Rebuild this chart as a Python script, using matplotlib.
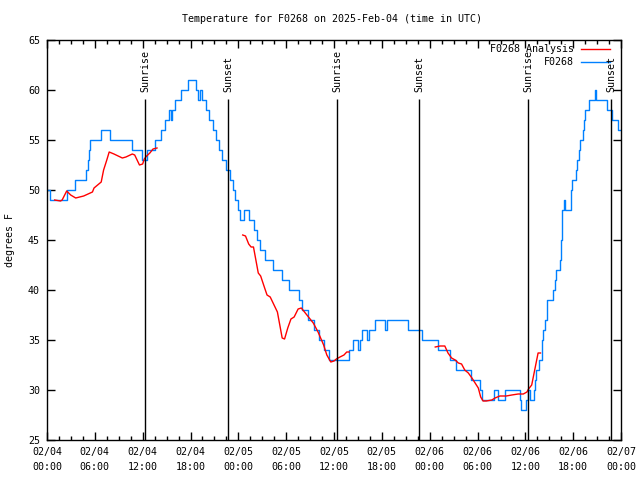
import numpy as np
import pandas as pd
import matplotlib
matplotlib.use('Agg')
import matplotlib.pyplot as plt
import matplotlib.dates as mdates
from matplotlib.ticker import AutoMinorLocator, MultipleLocator

plt.rcParams['font.family'] = ['DejaVu Sans Mono']
plt.rcParams['font.size'] = 7.2

# hours since 2025-02-04 00:00 UTC
obs_hours = [0.0, 0.4, 2.45, 3.45, 4.95, 5.1, 5.25, 5.4, 6.8, 7.9, 10.7, 11.95, 12.55, 13.5,
             14.3, 14.8, 15.3, 15.5, 15.7, 16.05, 16.8, 17.7, 18.7, 19.0, 19.2, 19.4, 19.9,
             20.3, 20.8, 21.2, 21.6, 22.0, 22.5, 22.9, 23.3, 23.6, 24.0, 24.2, 24.75, 25.3,
             26.0, 26.4, 26.7, 27.4, 28.3, 29.5, 30.3, 31.6, 32.0, 32.7, 33.5, 34.1, 34.8,
             35.4, 37.9, 38.35, 39.05, 39.2, 39.5, 40.2, 40.4, 41.1, 42.4, 42.7, 45.3, 47.0,
             49.1, 50.55, 51.3, 53.2, 54.3, 54.6, 56.1, 56.6, 57.5, 59.3, 59.5, 60.1, 60.3,
             60.6, 61.1, 61.2, 61.4, 61.75, 62.05, 62.26, 62.47, 62.7, 63.5, 63.7, 63.9,
             64.3, 64.45, 64.6, 64.8, 65.0, 65.7, 65.9, 66.3, 66.5, 66.7, 66.9, 67.2, 67.35,
             67.5, 68.0, 68.7, 68.9, 70.3, 70.9, 71.6, 71.9]
obs_temp = [50, 49, 50, 51, 52, 53, 54, 55, 56, 55, 54, 53, 54, 55,
            56, 57, 58, 57, 58, 59, 60, 61, 60, 59, 60, 59, 58,
            57, 56, 55, 54, 53, 52, 51, 50, 49, 48, 47, 48, 47,
            46, 45, 44, 43, 42, 41, 40, 39, 38, 37, 36, 35, 34,
            33, 34, 35, 34, 35, 36, 35, 36, 37, 36, 37, 36, 35,
            34, 33, 32, 31, 30, 29, 30, 29, 30, 29, 28, 29, 30,
            29, 30, 31, 32, 33, 35, 36, 37, 39, 40, 41, 42,
            43, 45, 48, 49, 48, 50, 51, 52, 53, 54, 55, 56, 57,
            58, 59, 60, 59, 58, 57, 56, 56]

ana_hours = [0.96, 1.7, 1.9, 2.47, 2.97, 3.6, 4.6, 5.7, 5.9, 6.8, 7.1, 7.5, 7.8, 8.4, 9.45,
             9.9, 10.7, 11.0, 11.6, 12.0, 12.2, 12.5, 12.9, 13.3, 13.8, np.nan,
             24.55, 24.9, 25.3, 25.6, 25.9, 26.2, 26.5, 26.8, 27.3, 27.6, 28.0, 28.6, 28.9,
             29.2, 29.5, 29.8, 30.2, 30.6, 31.0, 31.5, 31.9, 32.4, 33.0, 33.4, 34.0, 34.7,
             35.1, 35.6, 36.0, 36.3, 36.75, 37.25, 37.6, 37.9, np.nan,
             48.7, 49.3, 49.9, 50.3, 50.75, 51.2, 51.6, 52.0, 52.4, 52.85, 53.3, 53.7, 54.1,
             54.4, 54.7, 55.1, 55.8, 56.2, 56.8, 57.6, 58.3, 59.1, 59.75, 60.2, 60.4, 60.8,
             61.1, 61.35, 61.6, 61.9]
ana_temp = [49.0, 48.9, 49.0, 49.9, 49.5, 49.2, 49.4, 49.8, 50.2, 50.8, 52.0, 53.0, 53.8, 53.6, 53.2,
            53.3, 53.6, 53.5, 52.5, 52.6, 53.1, 53.4, 53.7, 54.1, 54.2, np.nan,
            45.5, 45.4, 44.6, 44.3, 44.3, 43.0, 41.7, 41.4, 40.2, 39.5, 39.3, 38.3, 37.8,
            36.5, 35.2, 35.1, 36.2, 37.1, 37.3, 38.1, 38.2, 37.7, 37.1, 36.7, 35.8, 34.5,
            33.5, 32.8, 32.9, 33.1, 33.3, 33.5, 33.8, 33.8, np.nan,
            34.3, 34.4, 34.4, 33.7, 33.2, 33.0, 32.7, 32.6, 32.0, 31.7, 31.2, 30.7, 30.2,
            29.3, 28.9, 28.9, 29.0, 29.2, 29.4, 29.4, 29.5, 29.6, 29.6, 29.8, 30.1, 30.5,
            31.7, 32.7, 33.7, 33.7]

sun_labels = ['Sunrise', 'Sunset', 'Sunrise', 'Sunset', 'Sunrise', 'Sunset']
sun_hours = [12.33, 22.74, 36.41, 46.7, 60.38, 70.8]

start = mdates.date2num(pd.Timestamp('2025-02-04 00:00'))


def to_num(hours):
    return start + np.array(hours, dtype=float) / 24.0


blue = '#0080ff'

fig = plt.figure(figsize=(6.4, 4.8), dpi=100)
ax = fig.add_axes([47 / 640, 40 / 480, 574 / 640, 400 / 480])

ax.plot(to_num(obs_hours), obs_temp, drawstyle='steps-post', color=blue, lw=1.0)
ax.plot(to_num(ana_hours), ana_temp, color='red', lw=1.0)

for lab, h in zip(sun_labels, sun_hours):
    t = to_num([h])[0]
    ax.vlines(t, 25, 59.1, color='black', lw=1.0)
    ax.text(t, 59.75, lab, rotation=90, ha='center', va='bottom')

ax.set_xlim(to_num([0])[0], to_num([72])[0])
ax.set_ylim(25, 65)
ax.xaxis_date()
ax.xaxis.set_major_locator(mdates.HourLocator(byhour=[0, 6, 12, 18]))
ax.xaxis.set_major_formatter(mdates.DateFormatter('%m/%d\n%H:%M'))
ax.xaxis.set_minor_locator(AutoMinorLocator(4))
ax.yaxis.set_major_locator(MultipleLocator(5))
ax.tick_params(which='both', direction='in', top=True, right=True, width=1)
ax.tick_params(which='major', length=6)
ax.tick_params(which='minor', length=3)
ax.tick_params(axis='x', pad=5)
ax.tick_params(axis='y', pad=5)
for lbl in ax.get_xticklabels():
    lbl.set_linespacing(1.6)
for s in ax.spines.values():
    s.set_linewidth(1.0)

# legend drawn gnuplot-style: text right-aligned, sample line after it
leg = [('F0268 Analysis', 'red'), ('F0268', blue)]
for i, (name, col) in enumerate(leg):
    yy = 0.9775 - i * 0.0335
    ax.text(0.918, yy, name, transform=ax.transAxes, ha='right', va='center')
    ax.plot([0.930, 0.981], [yy, yy], transform=ax.transAxes, color=col, lw=1.0)

fig.text(0.519, 1 - 19 / 480, 'Temperature for F0268 on 2025-Feb-04 (time in UTC)',
         ha='center', va='center')
fig.text(10 / 640, 0.5, 'degrees F', rotation=90, ha='center', va='center')

fig.savefig('out.png', dpi=100)
